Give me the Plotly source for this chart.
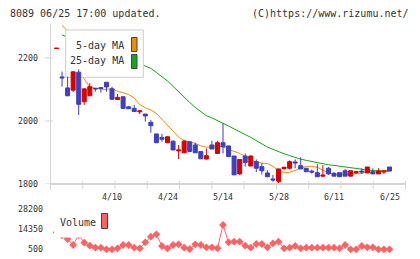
import plotly.graph_objects as go

W, H = 420, 259

# ---------------- data ----------------
tick_idx = [10, 20, 30, 40, 50, 60]
tick_text = ["4/10", "4/24", "5/14", "5/28", "6/11", "6/25"]
price_ticks = [1800, 2000, 2200]
volume_ticks = [500, 14350, 28200]

opens = [2230, 2140, 2105, 2098, 2155, 2061, 2080, 2104, 2106, 2123,
         2102, 2068, 2077, 2045, 2040, 2029, 2022, 1996, 1959, 1948,
         1931, 1936, 1905, 1899, 1934, 1924, 1903, 1879, 1924, 1897,
         1931, 1921, 1889, 1832, 1889, 1857, 1871, 1855, 1835, 1816,
         1807, 1849, 1850, 1870, 1858, 1850, 1841, 1836, 1825, 1850,
         1834, 1836, 1842, 1825, 1836, 1841, 1835, 1839, 1832, 1838,
         1854]
highs = [2232, 2157, 2141, 2159, 2164, 2103, 2120, 2105, 2106, 2123,
         2109, 2086, 2079, 2048, 2051, 2035, 2022, 2003, 1959, 1959,
         1951, 1938, 1924, 1940, 1934, 1931, 1903, 1913, 1937, 1937,
         1993, 1921, 1889, 1879, 1897, 1889, 1878, 1867, 1844, 1829,
         1848, 1855, 1875, 1878, 1885, 1851, 1846, 1863, 1860, 1854,
         1838, 1836, 1848, 1842, 1842, 1850, 1854, 1850, 1850, 1841,
         1854]
lows = [2229, 2109, 2079, 2092, 2019, 2051, 2080, 2093, 2090, 2093,
        2067, 2068, 2040, 2038, 2029, 2022, 1998, 1963, 1930, 1934,
        1931, 1908, 1879, 1898, 1903, 1899, 1880, 1879, 1911, 1897,
        1897, 1887, 1829, 1829, 1855, 1857, 1838, 1830, 1822, 1807,
        1800, 1844, 1846, 1850, 1848, 1838, 1833, 1823, 1821, 1829,
        1825, 1823, 1825, 1825, 1832, 1832, 1835, 1832, 1832, 1832,
        1841]
closes = [2231, 2137, 2080, 2156, 2053, 2102, 2109, 2102, 2103, 2108,
          2069, 2075, 2040, 2039, 2030, 2032, 2016, 1985, 1931, 1942,
          1950, 1908, 1908, 1936, 1903, 1899, 1880, 1890, 1911, 1931,
          1918, 1887, 1829, 1878, 1868, 1889, 1850, 1842, 1823, 1813,
          1848, 1853, 1871, 1867, 1848, 1839, 1838, 1823, 1828, 1832,
          1825, 1823, 1825, 1842, 1839, 1838, 1854, 1832, 1841, 1841,
          1841]
ma5 = [None, 2303, 2286, 2232, 2168, 2133, 2108, 2103, 2101, 2100,
       2104, 2094, 2090, 2084, 2073, 2052, 2042, 2035, 2024, 2005,
       1986, 1967, 1949, 1938, 1934, 1929, 1921, 1917, 1917, 1918,
       1919, 1910, 1903, 1897, 1887, 1876, 1870, 1866, 1865, 1856,
       1841, 1837, 1837, 1844, 1849, 1856, 1856, 1853, 1844, 1835,
       1831, 1831, 1831, 1831, 1831, 1833, 1841, 1842, 1842, 1842,
       1844]
ma25 = [None, 2273, 2267, 2261, 2255, 2249, 2243, 2237, 2231, 2224,
        2218, 2211, 2204, 2197, 2190, 2183, 2176, 2167, 2154, 2141,
        2127, 2110, 2092, 2076, 2059, 2043, 2029, 2017, 2010, 2002,
        1994, 1984, 1975, 1967, 1957, 1948, 1938, 1928, 1917, 1910,
        1902, 1896, 1890, 1884, 1879, 1875, 1871, 1869, 1865, 1861,
        1859, 1857, 1855, 1853, 1850, 1847, 1844, 1842, 1841, 1841,
        1841]
volume = [12000, 10000, 7425, 3270, 10195, 4863, 2785, 1400, 1400, 300,
          300, 985, 3270, 3270, 1400, 985, 5140, 9018, 10680, 2578,
          985, 3270, 3755, 1400, 500, 3755, 3270, 1677, 1677, 985,
          17120, 5140, 5555, 5555, 2785, 1400, 3963, 3963, 1677, 4447,
          5555, 985, 1400, 2578, 985, 1400, 1400, 1400, 1400, 1400,
          1400, 985, 3270, 300, 300, 2578, 1677, 1677, 300, 300,
          300]

idx = list(range(len(opens)))

# ---------------- style ----------------
RED = "#d80000"
BLUE = "#3f3fbf"
ORANGE = "#f08c0a"
GREEN = "#10a810"
VOLC = "#ff6262"
AXC = "#d4d4d4"
TXT = "#333333"
MONO = "DejaVu Sans Mono"

# geometry (pixels)
PL, PR = 50, 405
PT, PB = 24, 184
VT, VB = 203, 255
C0, DC = 56.5, 5.55

x_range = [(PL - C0) / DC, (PR - C0) / DC]
y_lo = price_ticks[0]
y_hi = y_lo + (PB - PT) * 200 / 63
vpp = (volume_ticks[2] - volume_ticks[0]) / 40.0
v_lo = volume_ticks[0] - (VB - 249) * vpp
v_hi = volume_ticks[2] + (209 - VT) * vpp


def px_x(px):
    return (px - C0) / DC


def py_price(py):
    return y_lo + (PB - py) * (y_hi - y_lo) / (PB - PT)


def fx(px):
    return px / W


def fy(py):
    return 1 - py / H


fig = go.Figure()

# moving averages (drawn below the legend box and the candles)
fig.add_trace(go.Scatter(x=idx, y=ma5, mode="lines", line=dict(color=ORANGE, width=1),
                         hoverinfo="skip", xaxis="x", yaxis="y"))
fig.add_trace(go.Scatter(x=idx, y=ma25, mode="lines", line=dict(color=GREEN, width=1),
                         hoverinfo="skip", xaxis="x", yaxis="y"))

# legend box (hides the MA lines but sits under the candles)
lx0, lx1 = px_x(65.7), px_x(143.3)
ly0, ly1 = py_price(77.3), py_price(30)
fig.add_trace(go.Scatter(x=[lx0, lx1, lx1, lx0, lx0], y=[ly0, ly0, ly1, ly1, ly0],
                         mode="lines", fill="toself", fillcolor="white",
                         line=dict(color="#cccccc", width=1), hoverinfo="skip",
                         xaxis="x", yaxis="y"))

# candles on an overlaid subplot so they draw above the legend box
fig.add_trace(go.Candlestick(x=idx, open=opens, high=highs, low=lows, close=closes,
                             xaxis="x3", yaxis="y3", whiskerwidth=0, hoverinfo="skip",
                             increasing=dict(line=dict(color=RED, width=1), fillcolor=RED),
                             decreasing=dict(line=dict(color=BLUE, width=1), fillcolor=BLUE)))

# volume
fig.add_trace(go.Scatter(x=idx, y=volume, mode="lines+markers",
                         line=dict(color=VOLC, width=1),
                         marker=dict(symbol="diamond", size=6, color=VOLC, line=dict(width=0)),
                         hoverinfo="skip", xaxis="x2", yaxis="y2"))

hidden = dict(visible=False, showgrid=False, zeroline=False, fixedrange=True)

fig.update_layout(
    width=W, height=H, margin=dict(l=0, r=0, t=0, b=0),
    paper_bgcolor="white", plot_bgcolor="white", showlegend=False,
    boxgap=0.28, boxgroupgap=0,
    xaxis=dict(domain=[fx(PL), fx(PR)], range=x_range, anchor="y",
               rangeslider=dict(visible=False), **hidden),
    yaxis=dict(domain=[fy(PB), fy(PT)], range=[y_lo, y_hi], anchor="x", **hidden),
    xaxis3=dict(overlaying="x", range=x_range, anchor="y3",
                rangeslider=dict(visible=False), **hidden),
    yaxis3=dict(overlaying="y", range=[y_lo, y_hi], anchor="x3", **hidden),
    xaxis2=dict(domain=[fx(PL), fx(PR)], range=x_range, anchor="y2",
                rangeslider=dict(visible=False), **hidden),
    yaxis2=dict(domain=[fy(VB), fy(VT)], range=[v_lo, v_hi], anchor="x2", **hidden),
)

shapes = []
# axis lines
shapes.append(dict(type="line", xref="paper", yref="paper", x0=fx(50.5), x1=fx(50.5),
                   y0=fy(PT), y1=fy(PB), line=dict(color=AXC, width=1), layer="above"))
shapes.append(dict(type="line", xref="paper", yref="paper", x0=fx(50), x1=fx(406),
                   y0=fy(184), y1=fy(184), line=dict(color=AXC, width=2), layer="above"))
for k in range(12):
    xp = 50.5 + k * 32.27
    shapes.append(dict(type="line", xref="paper", yref="paper", x0=fx(xp), x1=fx(xp),
                       y0=fy(181), y1=fy(189), line=dict(color=AXC, width=1), layer="above"))
for v in price_ticks:
    shapes.append(dict(type="line", xref="paper", yref="y", x0=fx(45), x1=fx(53),
                       y0=v, y1=v, line=dict(color=AXC, width=1), layer="above"))

# legend swatches
shapes.append(dict(type="rect", xref="paper", yref="paper", x0=fx(131.5), x1=fx(137),
                   y0=fy(51.5), y1=fy(37.5), fillcolor=ORANGE,
                   line=dict(color="#444444", width=1), layer="above"))
shapes.append(dict(type="rect", xref="paper", yref="paper", x0=fx(131.5), x1=fx(137),
                   y0=fy(68.5), y1=fy(54.5), fillcolor="#10aa20",
                   line=dict(color="#444444", width=1), layer="above"))
# volume legend background + swatch
shapes.append(dict(type="rect", xref="paper", yref="paper", x0=fx(54), x1=fx(112),
                   y0=fy(237.6), y1=fy(VT), fillcolor="white",
                   line=dict(width=0), layer="above"))
shapes.append(dict(type="rect", xref="paper", yref="paper", x0=fx(101.5), x1=fx(107.5),
                   y0=fy(228.5), y1=fy(213.5), fillcolor="#ff6060",
                   line=dict(color="#444444", width=1), layer="above"))

ann = []
ann.append(dict(text="8089 06/25 17:00 updated.", xref="paper", yref="paper",
                x=fx(8), y=fy(13), xanchor="left", yanchor="middle", showarrow=False,
                font=dict(family=MONO, size=10, color=TXT)))
ann.append(dict(text="(C)https://www.rizumu.net/", xref="paper", yref="paper",
                x=fx(411), y=fy(13), xanchor="right", yanchor="middle", showarrow=False,
                font=dict(family=MONO, size=10, color=TXT)))
for v in price_ticks:
    ann.append(dict(text=str(v), xref="paper", yref="y", x=fx(40), y=v,
                    xanchor="right", yanchor="middle", showarrow=False,
                    font=dict(family=MONO, size=8.3, color=TXT)))
for v in volume_ticks:
    ann.append(dict(text=str(v), xref="paper", yref="y2", x=fx(45), y=v,
                    xanchor="right", yanchor="middle", showarrow=False,
                    font=dict(family=MONO, size=8.3, color=TXT)))
for i, t in zip(tick_idx, tick_text):
    ann.append(dict(text=t, xref="x", yref="paper", x=i, y=fy(197),
                    xanchor="center", yanchor="middle", showarrow=False,
                    font=dict(family=MONO, size=8.3, color=TXT)))
ann.append(dict(text="5-day MA", xref="paper", yref="paper", x=fx(126), y=fy(46),
                xanchor="right", yanchor="middle", showarrow=False,
                font=dict(family=MONO, size=10, color=TXT)))
ann.append(dict(text="25-day MA", xref="paper", yref="paper", x=fx(126), y=fy(61),
                xanchor="right", yanchor="middle", showarrow=False,
                font=dict(family=MONO, size=10, color=TXT)))
ann.append(dict(text="Volume", xref="paper", yref="paper", x=fx(57.5), y=fy(222),
                xanchor="left", yanchor="middle", showarrow=False,
                font=dict(family=MONO, size=10, color=TXT)))

fig.update_layout(shapes=shapes, annotations=ann)

fig.write_html("out.html")
